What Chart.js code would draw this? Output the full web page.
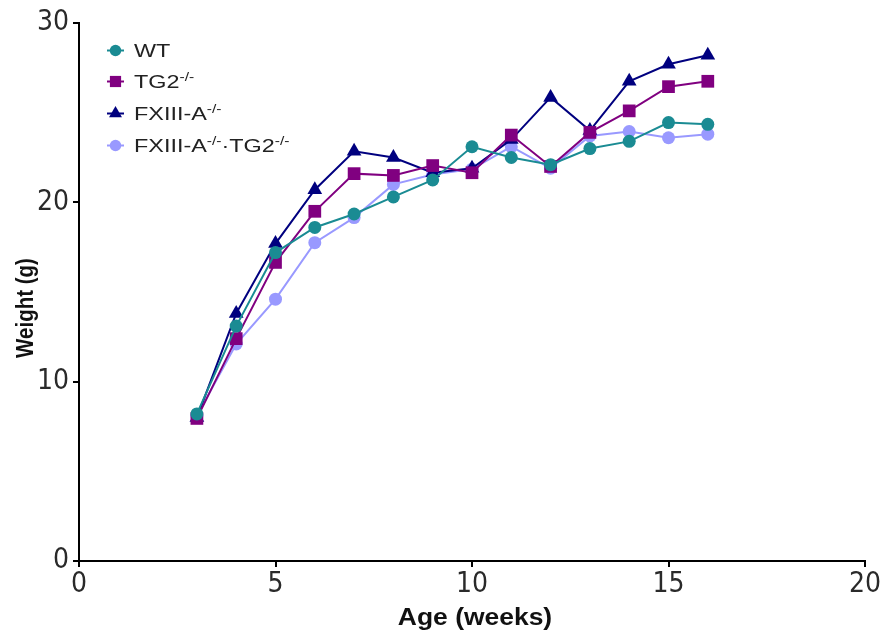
<!DOCTYPE html>
<html>
<head>
<meta charset="utf-8">
<script src="https://cdn.jsdelivr.net/npm/chart.js@4.4.1/dist/chart.umd.min.js"></script>
<style>
  html, body { margin: 0; padding: 0; background: #fff; }
  canvas { display: block; }
</style>
</head>
<body>
<canvas id="weightChart" width="884" height="634"></canvas>
<script>
const weeks = [3, 4, 5, 6, 7, 8, 9, 10, 11, 12, 13, 14, 15, 16];
const wt   = [8.2, 13.1, 17.2, 18.6, 19.35, 20.3, 21.25, 23.1, 22.5, 22.1, 23.0, 23.4, 24.45, 24.35];
const tg2  = [7.95, 12.4, 16.65, 19.5, 21.6, 21.5, 22.05, 21.65, 23.75, 22.0, 23.9, 25.1, 26.45, 26.75];
const fx   = [8.0, 13.8, 17.7, 20.7, 22.85, 22.5, 21.65, 21.9, 23.5, 25.85, 24.0, 26.75, 27.7, 28.2];
const dko  = [8.1, 12.1, 14.6, 17.75, 19.15, 21.0, 21.55, 21.85, 23.1, 21.9, 23.7, 23.95, 23.6, 23.8];

const xTicks = [0, 5, 10, 15, 20];
const yTicks = [0, 10, 20, 30];

// legend label pieces: [text, isSuperscript]
const legendLabels = [
  [['WT', false]],
  [['TG2', false], ['-/-', true]],
  [['FXIII-A', false], ['-/-', true]],
  [['FXIII-A', false], ['-/-', true], ['·TG2', false], ['-/-', true]]
];

const series = [
  { label: 'WT', values: wt, color: '#1a8b93', style: 'circle', r: 6.5 },
  { label: 'TG2-/-', values: tg2, color: '#800080', style: 'rect', r: 9 },
  { label: 'FXIII-A-/-', values: fx, color: '#00007f', style: 'triangle', r: 8.5 },
  { label: 'FXIII-A-/-·TG2-/-', values: dko, color: '#9999ff', style: 'circle', r: 6.5 }
];

const toPoints = vals => weeks.map((w, i) => ({ x: w, y: vals[i] }));

const decorations = {
  id: 'decorations',
  afterDraw(chart) {
    const ctx = chart.ctx;
    ctx.save();
    ctx.fillStyle = '#111';

    // axis titles
    ctx.save();
    ctx.font = 'bold 23px "Liberation Sans", Arial, sans-serif';
    ctx.textAlign = 'center';
    ctx.textBaseline = 'alphabetic';
    ctx.translate(475, 625);
    ctx.scale(1.15, 1);
    ctx.fillText('Age (weeks)', 0, 0);
    ctx.restore();

    ctx.save();
    ctx.font = 'bold 20.5px "Liberation Sans", Arial, sans-serif';
    ctx.textAlign = 'center';
    ctx.textBaseline = 'alphabetic';
    ctx.translate(33, 308);
    ctx.rotate(-Math.PI / 2);
    ctx.scale(1, 1.2);
    ctx.fillText('Weight (g)', 0, 0);
    ctx.restore();

    // legend
    const rowsY = [57, 88, 120, 152];
    series.forEach((s, i) => {
      const cy = rowsY[i] - 6.5;
      ctx.save();
      ctx.strokeStyle = s.color;
      ctx.lineWidth = 2;
      ctx.beginPath();
      ctx.moveTo(107, cy);
      ctx.lineTo(124, cy);
      ctx.stroke();
      ctx.fillStyle = s.color;
      Chart.helpers.drawPoint(ctx, {
        pointStyle: s.style, radius: s.r * 0.88, rotation: 0, borderWidth: 0
      }, 115.5, cy);
      ctx.restore();

      ctx.save();
      ctx.fillStyle = '#222';
      ctx.textBaseline = 'alphabetic';
      ctx.translate(134, rowsY[i]);
      ctx.scale(1.3, 1);
      let x = 0;
      legendLabels[i].forEach(([txt, sup]) => {
        ctx.font = sup ? '12px "Liberation Sans", Arial, sans-serif'
                       : '18px "Liberation Sans", Arial, sans-serif';
        ctx.fillText(txt, x, sup ? -7 : 0);
        x += ctx.measureText(txt).width;
      });
      ctx.restore();
    });
    ctx.restore();
  }
};

new Chart(document.getElementById('weightChart'), {
  type: 'line',
  data: {
    datasets: series.map(s => ({
      label: s.label,
      data: toPoints(s.values),
      borderColor: s.color,
      backgroundColor: s.color,
      pointBackgroundColor: s.color,
      pointBorderColor: s.color,
      pointBorderWidth: 0,
      pointStyle: s.style,
      pointRadius: s.r,
      borderWidth: 2,
      tension: 0,
      fill: false
    }))
  },
  options: {
    responsive: false,
    animation: false,
    events: [],
    layout: { padding: { top: 23, right: 19, left: 0, bottom: 0 } },
    plugins: { legend: { display: false }, tooltip: { enabled: false } },
    scales: {
      x: {
        type: 'linear',
        min: 0, max: 20,
        afterFit: s => { s.height = 73; },
        afterBuildTicks: s => { s.ticks = xTicks.map(v => ({ value: v })); },
        grid: { drawOnChartArea: false, drawTicks: true, tickLength: 6, color: '#000', lineWidth: 2 },
        border: { color: '#000', width: 2 },
        ticks: {
          padding: 1, color: '#2a2a2a',
          font: { family: '"Liberation Sans Narrow", "DejaVu Sans Condensed", sans-serif', size: 28 }
        }
      },
      y: {
        min: 0, max: 30,
        afterFit: s => { s.width = 79; },
        afterBuildTicks: s => { s.ticks = yTicks.map(v => ({ value: v })); },
        grid: { drawOnChartArea: false, drawTicks: true, tickLength: 6, color: '#000', lineWidth: 2 },
        border: { color: '#000', width: 2 },
        ticks: {
          padding: 4, color: '#2a2a2a',
          font: { family: '"Liberation Sans Narrow", "DejaVu Sans Condensed", sans-serif', size: 28 }
        }
      }
    }
  },
  plugins: [decorations]
});
</script>
</body>
</html>
